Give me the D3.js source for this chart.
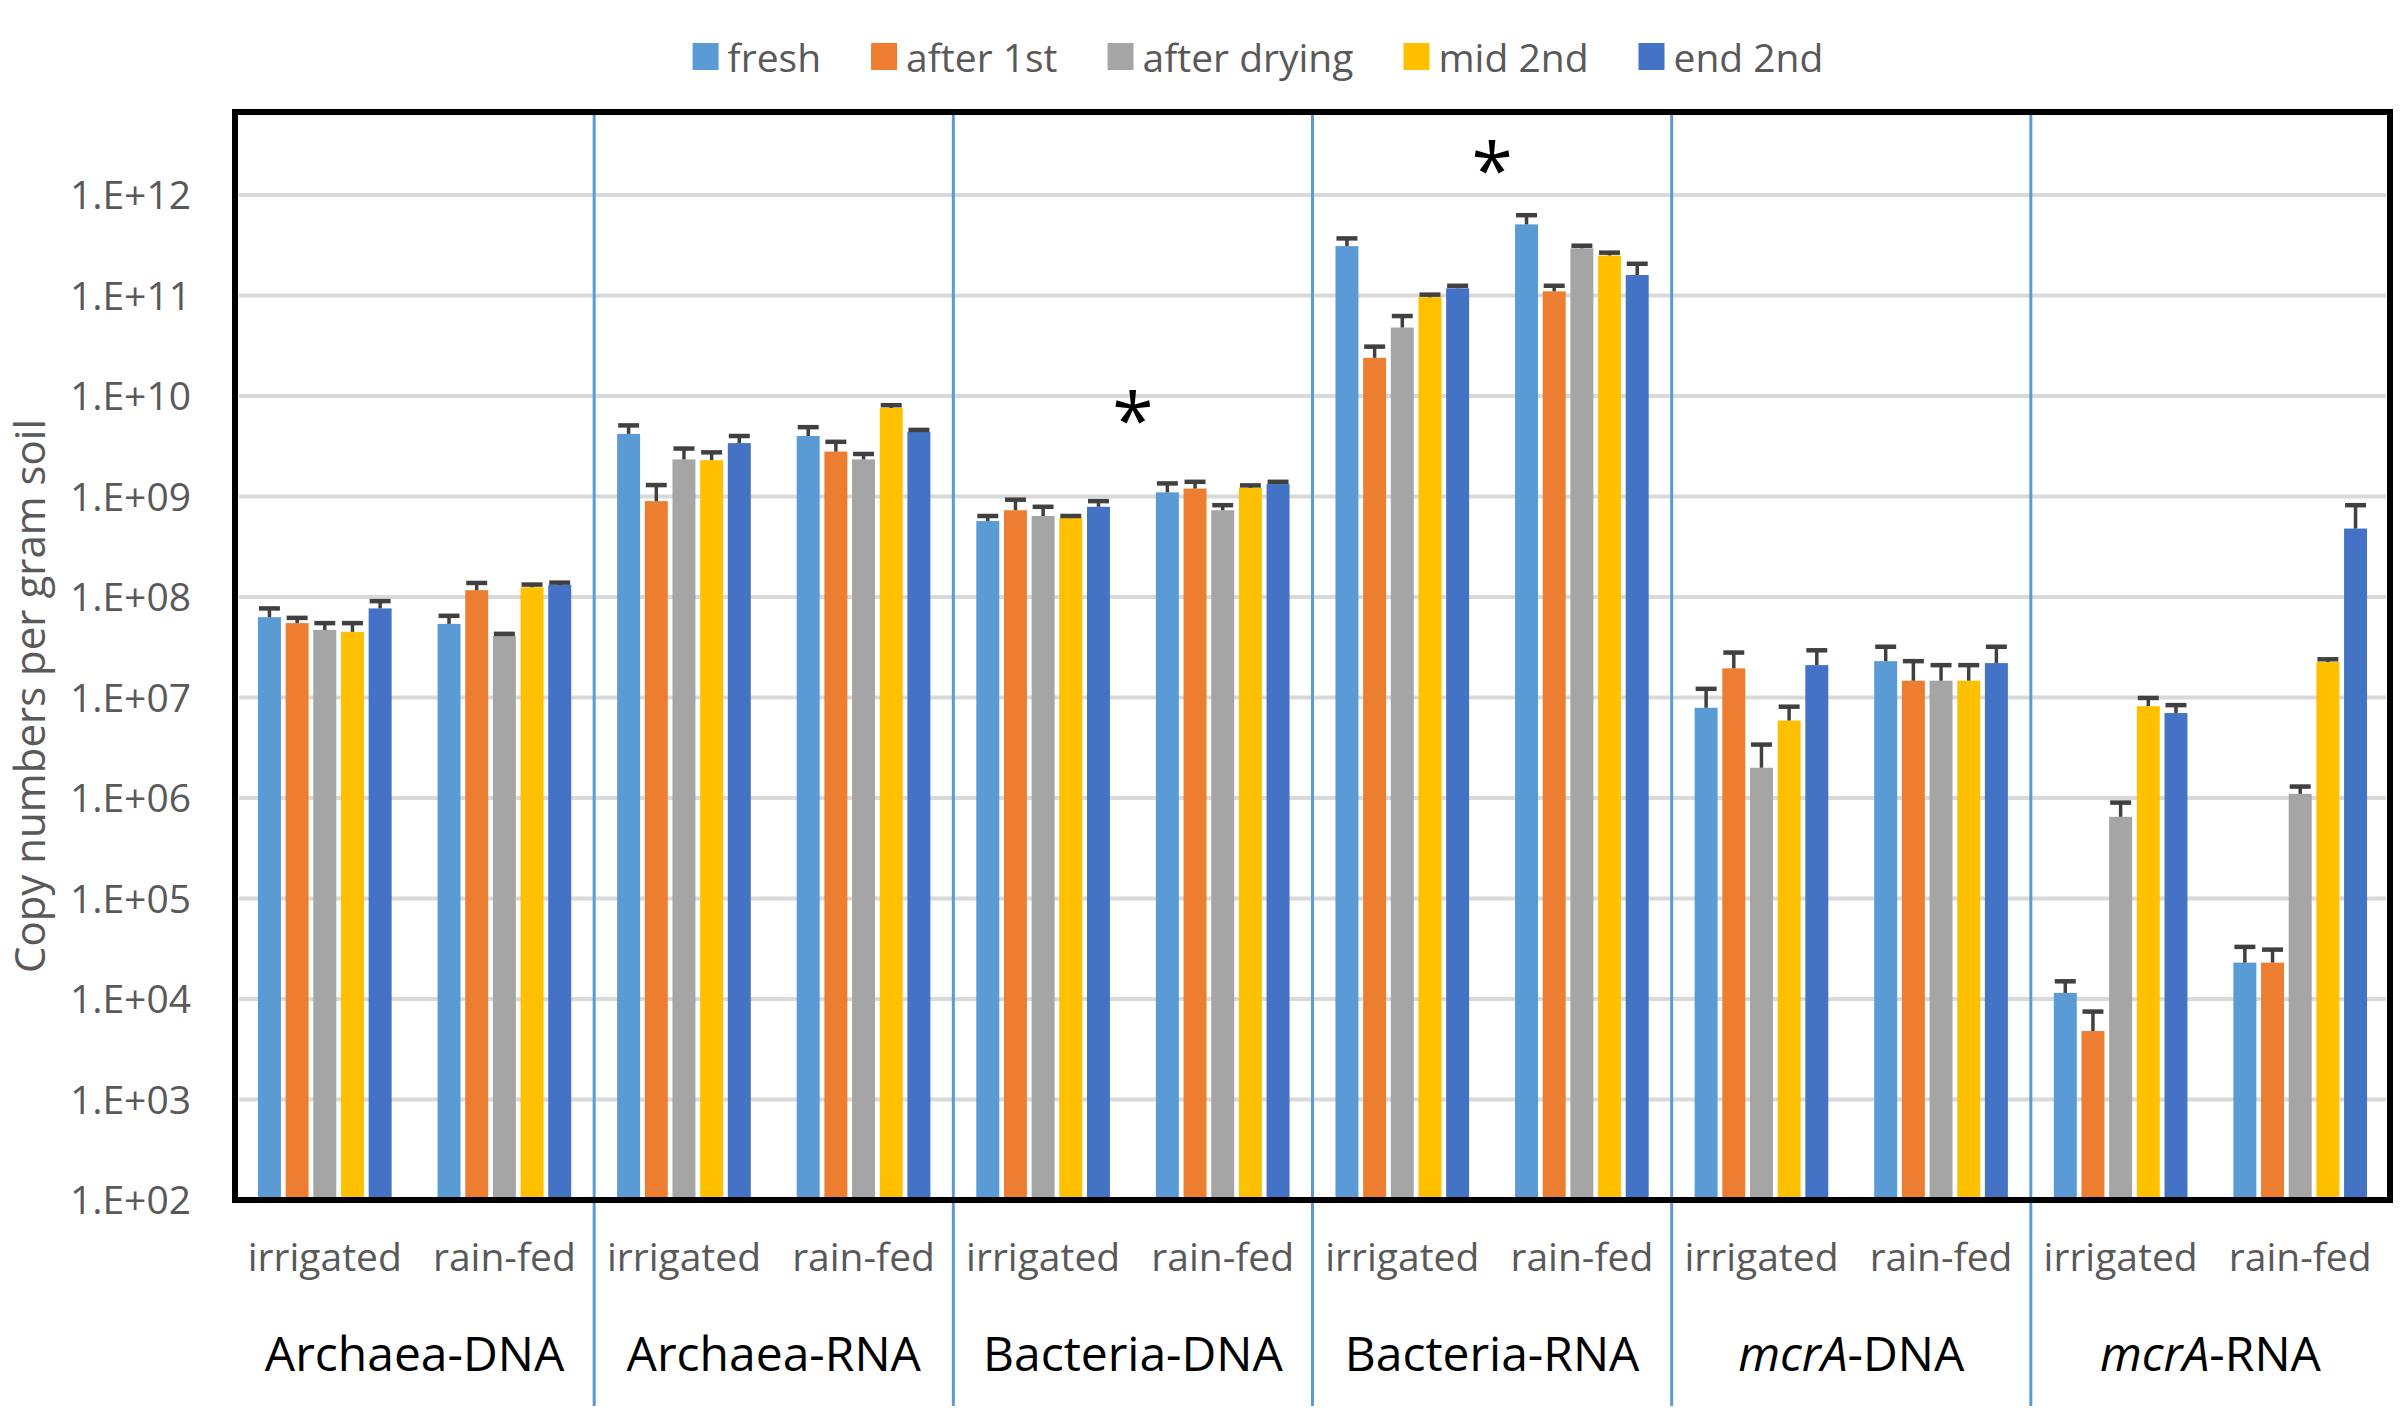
<!DOCTYPE html>
<html>
<head>
<meta charset="utf-8">
<script src="https://cdn.jsdelivr.net/npm/d3@7"></script>
<style>
  body { margin: 0; background: #fff; }
  text { font-family: "Open Sans", "Noto Sans", sans-serif; }
</style>
</head>
<body>
<svg id="chart" width="2400" height="1417"></svg>
<script>
// ---- data ----
var groups     = ["Archaea-DNA", "Archaea-RNA", "Bacteria-DNA", "Bacteria-RNA", "mcrA-DNA", "mcrA-RNA"];
var treatments = ["irrigated", "rain-fed"];
var series     = ["fresh", "after 1st", "after drying", "mid 2nd", "end 2nd"];
var colors     = ["#5B9BD5", "#ED7D31", "#A5A5A5", "#FFC000", "#4472C4"];

// mean copy numbers, order: each group x (irrigated, rain-fed)
var fresh       = [6.3e7, 5.4e7, 4.2e9, 4.0e9, 5.7e8, 1.1e9, 3.1e11, 5.1e11, 7.9e6, 2.3e7, 1.15e4, 2.3e4];
var after1st    = [5.5e7, 1.17e8, 9.0e8, 2.8e9, 7.3e8, 1.2e9, 2.4e10, 1.1e11, 1.95e7, 1.47e7, 4.8e3, 2.3e4];
var afterDrying = [4.7e7, 4.1e7, 2.34e9, 2.34e9, 6.4e8, 7.3e8, 4.8e10, 2.95e11, 2.0e6, 1.47e7, 6.5e5, 1.1e6];
var mid2nd      = [4.5e7, 1.25e8, 2.3e9, 7.6e9, 6.1e8, 1.22e9, 9.6e10, 2.5e11, 5.9e6, 1.47e7, 8.2e6, 2.25e7];
var end2nd      = [7.7e7, 1.32e8, 3.4e9, 4.4e9, 7.9e8, 1.33e9, 1.18e11, 1.6e11, 2.1e7, 2.2e7, 7.0e6, 4.8e8];

// standard errors (upper whisker only)
var freshErr       = [1.4e7, 1.1e7, 0.9e9, 0.9e9, 0.7e8, 0.25e9, 0.6e11, 1.2e11, 4.3e6, 0.9e7, 0.35e4, 1.0e4];
var after1stErr    = [0.7e7, 2.1e7, 4.0e8, 0.7e9, 2.0e8, 0.2e9, 0.7e10, 0.15e11, 0.85e7, 0.83e7, 2.7e3, 0.8e4];
var afterDryingErr = [0.8e7, 0.2e7, 0.66e9, 0.31e9, 1.5e8, 0.9e8, 1.45e10, 0.18e11, 1.4e6, 0.63e7, 2.5e5, 0.2e6];
var mid2ndErr      = [1.0e7, 0.08e8, 0.45e9, 0.5e9, 0.3e8, 0.07e9, 0.6e10, 0.17e11, 2.2e6, 0.63e7, 1.7e6, 0.15e7];
var end2ndErr      = [1.4e7, 0.07e8, 0.6e9, 0.2e9, 1.1e8, 0.07e9, 0.07e11, 0.47e11, 0.85e7, 1.0e7, 1.4e6, 3.4e8];

var yTicks = [1e2, 1e3, 1e4, 1e5, 1e6, 1e7, 1e8, 1e9, 1e10, 1e11, 1e12];
var yTop   = 6.7e12;   // value at the top edge of the plot frame

// significance marks
var stars = [{group: "Bacteria-DNA", value: 7.4e9}, {group: "Bacteria-RNA", value: 2.28e12}];

// ---- layout ----
var svg = d3.select("#chart");
var plotL = 235, plotR = 2390, plotT = 112, plotB = 1200;

var means = [fresh, after1st, afterDrying, mid2nd, end2nd];
var errs  = [freshErr, after1stErr, afterDryingErr, mid2ndErr, end2ndErr];

var keys = [];
groups.forEach(function(g){ treatments.forEach(function(t){ keys.push(g + "|" + t); }); });

var data = [];
keys.forEach(function(k, i){
  series.forEach(function(s, j){
    data.push({key: k, series: s, color: colors[j], val: means[j][i], err: errs[j][i]});
  });
});

var x0 = d3.scaleBand().domain(keys).range([plotL, plotR]);
var x1 = d3.scaleBand().domain(series).range([0, x0.bandwidth()])
  .paddingInner(0.17).paddingOuter(0.83);
var y = d3.scaleLog().domain([yTicks[0], yTop]).range([plotB, plotT]);

// gridlines
svg.append("g").selectAll("line")
  .data(yTicks.slice(1))
  .enter().append("line")
  .attr("x1", plotL + 4).attr("x2", plotR - 4)
  .attr("y1", function(d){ return y(d); })
  .attr("y2", function(d){ return y(d); })
  .attr("stroke", "#D9D9D9").attr("stroke-width", 4);

// group separators
svg.append("g").selectAll("line")
  .data(groups.slice(1))
  .enter().append("line")
  .attr("x1", function(g){ return x0(g + "|irrigated"); })
  .attr("x2", function(g){ return x0(g + "|irrigated"); })
  .attr("y1", plotT).attr("y2", 1406)
  .attr("stroke", "#5B9BD5").attr("stroke-width", 3);

// bars
svg.append("g").selectAll("rect")
  .data(data)
  .enter().append("rect")
  .attr("x", function(d){ return x0(d.key) + x1(d.series); })
  .attr("y", function(d){ return y(d.val); })
  .attr("width", x1.bandwidth())
  .attr("height", function(d){ return plotB - y(d.val); })
  .attr("fill", function(d){ return d.color; });

// error bars
var eb = svg.append("g").attr("stroke", "#404040");
eb.selectAll("line.stem")
  .data(data)
  .enter().append("line").attr("class", "stem")
  .attr("x1", function(d){ return x0(d.key) + x1(d.series) + x1.bandwidth()/2; })
  .attr("x2", function(d){ return x0(d.key) + x1(d.series) + x1.bandwidth()/2; })
  .attr("y1", function(d){ return y(d.val); })
  .attr("y2", function(d){ return y(d.val + d.err); })
  .attr("stroke-width", 3.5);
eb.selectAll("line.cap")
  .data(data)
  .enter().append("line").attr("class", "cap")
  .attr("x1", function(d){ return x0(d.key) + x1(d.series) + 1; })
  .attr("x2", function(d){ return x0(d.key) + x1(d.series) + x1.bandwidth() - 1; })
  .attr("y1", function(d){ return y(d.val + d.err); })
  .attr("y2", function(d){ return y(d.val + d.err); })
  .attr("stroke-width", 4.5);

// frame
svg.append("rect")
  .attr("x", plotL).attr("y", plotT)
  .attr("width", plotR - plotL).attr("height", plotB - plotT)
  .attr("fill", "none").attr("stroke", "#000").attr("stroke-width", 6);

// y axis labels
var yAxis = d3.axisLeft(y)
  .tickValues(yTicks)
  .tickSize(0)
  .tickPadding(44)
  .tickFormat(function(d){
    var e = Math.round(Math.log10(d));
    return "1.E+" + (e < 10 ? "0" + e : e);
  });
var ya = svg.append("g").attr("transform", "translate(" + plotL + ",0)").call(yAxis);
ya.select(".domain").remove();
ya.selectAll("text")
  .attr("font-family", "'Open Sans', sans-serif")
  .attr("font-size", 39).attr("fill", "#595959")
  .attr("dy", "0.35em");

// x axis: treatment labels
var xAxis = d3.axisBottom(x0).tickSize(0).tickPadding(0)
  .tickFormat(function(k){ return k.split("|")[1]; });
var xa = svg.append("g").attr("transform", "translate(0," + plotB + ")").call(xAxis);
xa.select(".domain").remove();
xa.selectAll("text")
  .attr("font-family", "'Open Sans', sans-serif")
  .attr("font-size", 39).attr("fill", "#595959")
  .attr("y", 71).attr("dy", 0);

// group labels
var gl = svg.append("g").selectAll("text")
  .data(groups)
  .enter().append("text")
  .attr("x", function(g){ return x0(g + "|irrigated") + x0.bandwidth(); })
  .attr("y", 1371)
  .attr("text-anchor", "middle")
  .attr("font-size", 48).attr("fill", "#000");
gl.each(function(g){
  var t = d3.select(this);
  if (g.indexOf("mcrA") === 0) {
    t.append("tspan").attr("font-style", "italic").text("mcrA");
    t.append("tspan").text(g.slice(4));
  } else {
    t.text(g);
  }
});

// y axis title (baseline on the right-hand side once rotated)
svg.append("text")
  .attr("transform", "translate(45,696) rotate(-90)")
  .attr("text-anchor", "middle")
  .attr("font-size", 42).attr("fill", "#595959")
  .text("Copy numbers per gram soil");

// asterisks
var starSize = 75;
svg.append("g").selectAll("text")
  .data(stars)
  .enter().append("text")
  .attr("x", function(d){ return x0(d.group + "|irrigated") + x0.bandwidth(); })
  .attr("y", function(d){ return y(d.value) + starSize * 0.505; })
  .attr("text-anchor", "middle")
  .attr("font-family", "'DejaVu Sans', sans-serif")
  .attr("font-size", starSize).attr("fill", "#000")
  .text("*");

// legend
var legend = svg.append("g");
var lx = 0;
series.forEach(function(s, i){
  var item = legend.append("g").attr("transform", "translate(" + lx + ",0)");
  item.append("rect").attr("x", 0).attr("y", 43).attr("width", 26).attr("height", 27)
    .attr("fill", colors[i]);
  var t = item.append("text").attr("x", 35).attr("y", 56.5)
    .attr("dominant-baseline", "central")
    .attr("font-size", 39).attr("fill", "#595959").text(s);
  lx += 35 + t.node().getComputedTextLength() + 50;
});
var lw = lx - 50;
legend.attr("transform", "translate(" + (1258 - lw/2) + ",0)");
</script>
</body>
</html>
